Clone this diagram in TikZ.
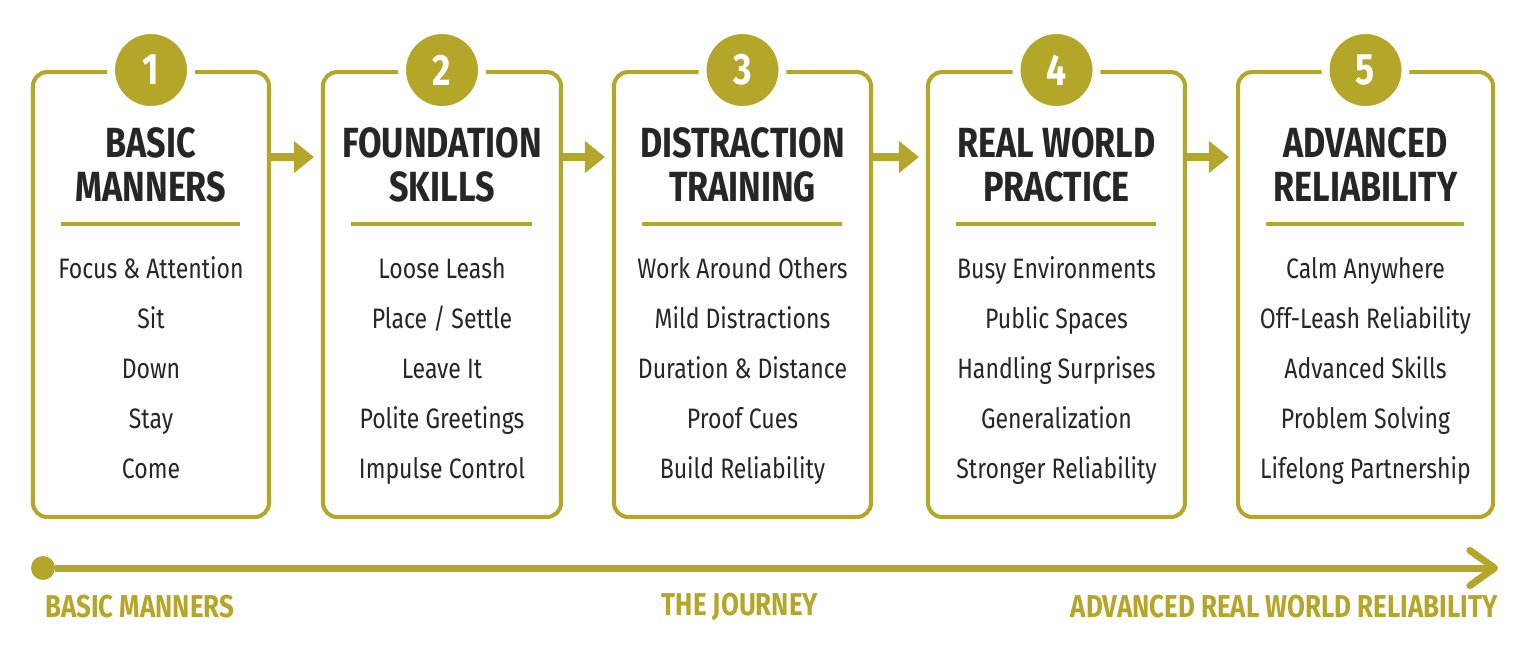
\documentclass[tikz,border=0pt]{standalone}
\usepackage{fontspec}
\newfontfamily\bodyfont{Fira Sans}[FakeStretch=0.82]
\newfontfamily\headfont{Fira Sans}[FakeStretch=0.81]
\newfontfamily\tagfont{Fira Sans}[FakeStretch=0.82]
\usetikzlibrary{positioning,calc,arrows.meta}
\definecolor{stepolive}{RGB}{180,166,40}
\definecolor{stepink}{RGB}{38,38,38}
\tikzset{
    stepbox/.style={draw=stepolive, line width=2.3pt, rounded corners=8pt,
      minimum height=8.9cm, inner sep=0pt, fill=white},
    numdisc/.style={circle, fill=stepolive, draw=white, line width=4.5pt,
      minimum size=1.6cm, inner sep=0pt, text=white, font=\headfont\bfseries\fontsize{25}{25}\selectfont},
    steptitle/.style={align=center, text=stepink, anchor=base,
      font=\headfont\bfseries\fontsize{24}{24.5}\selectfont},
    stepitems/.style={align=center, text=stepink, anchor=base,
      font=\bodyfont\fontsize{16}{28.4}\selectfont},
    sepline/.style={draw=stepolive, line width=2.3pt},
    steparrow/.style={draw=stepolive, line width=4.4pt,
      -{Triangle[length=11.4pt,width=17.6pt]}, shorten >=4pt},
    journey/.style={text=stepolive, inner sep=0pt, font=\tagfont\bfseries\fontsize{18}{18}\selectfont},
  }
\begin{document}
\begin{tikzpicture}[x=0.02cm,y=-0.02cm]
  \useasboundingbox (0,0) rectangle (1530,654);
  %BOXES
  \foreach \n/\cx/\w/\title/\items in {
      1/151/236/{BASIC\\MANNERS}/{Focus \& Attention\\Sit\\Down\\Stay\\Come},
      2/442/238/{FOUNDATION\\SKILLS}/{Loose Leash\\Place / Settle\\Leave It\\Polite Greetings\\Impulse Control},
      3/742.5/257/{DISTRACTION\\TRAINING}/{Work Around Others\\Mild Distractions\\Duration \& Distance\\Proof Cues\\Build Reliability},
      4/1056.5/257/{REAL WORLD\\PRACTICE}/{Busy Environments\\Public Spaces\\Handling Surprises\\Generalization\\Stronger Reliability},
      5/1365.5/255/{ADVANCED\\RELIABILITY}/{Calm Anywhere\\Off-Leash Reliability\\Advanced Skills\\Problem Solving\\Lifelong Partnership}}{
    \node[stepbox, minimum width=\w*0.02cm] (box\n) at (\cx,294.5) {};
    \node[numdisc] (num\n) at (box\n.north) {\n};
    %base = last line
    \node[steptitle] (title\n) at (\cx,201) {\title};
    %separator under the title
    \path (box\n.west |- 0,224) coordinate (sl\n) (box\n.east |- 0,224) coordinate (sr\n);
    \draw[sepline] ($(sl\n)+(30,0)$) -- ($(sr\n)-(31,0)$);
    \node[stepitems] (items\n) at (\cx,478) {\items};
  }
  %ARROWS between the steps
  \foreach \a/\b in {1/2,2/3,3/4,4/5}
    \draw[steparrow] (box\a.east |- 0,157) -- (box\b.west |- 0,157);
  %TIMELINE
  \node[circle, fill=stepolive, minimum size=0.48cm, inner sep=0pt] (start) at (43,568) {};
  \coordinate (finish) at (1498,568);
  \draw[stepolive, line width=4pt, -{Straight Barb[length=14pt,width=20pt,round]}] (start) -- (finish);
  \node[journey, anchor=west] (from) at (45,607) {BASIC MANNERS};
  \node[journey] (journey) at (740,607) {THE JOURNEY};
  \node[journey, anchor=east] (to) at (1498,607) {ADVANCED REAL WORLD RELIABILITY};
\end{tikzpicture}
\end{document}
